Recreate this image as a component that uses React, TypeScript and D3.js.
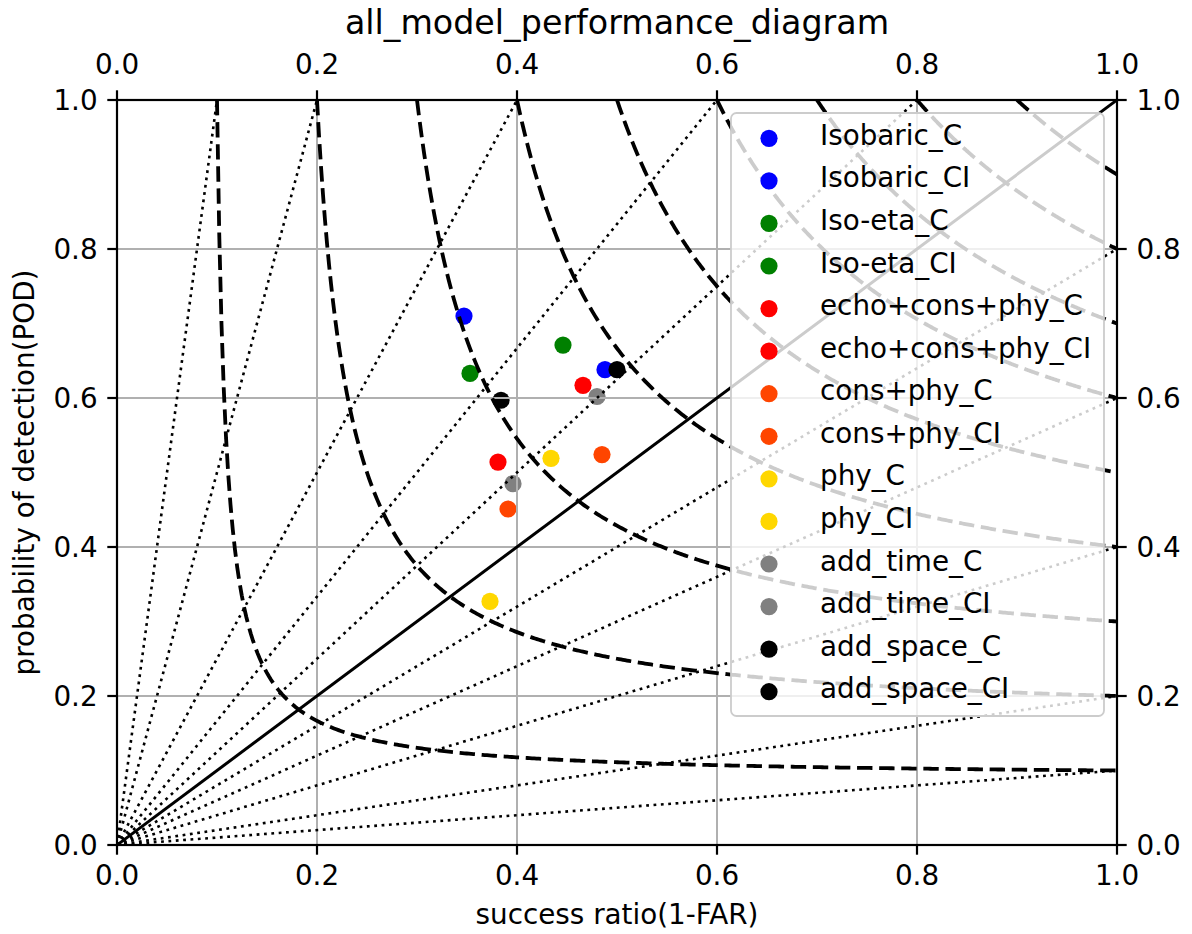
import React from "react";
import * as d3 from "d3";

const labels = [
  "Isobaric_C", "Isobaric_CI", "Iso-eta_C", "Iso-eta_CI",
  "echo+cons+phy_C", "echo+cons+phy_CI", "cons+phy_C", "cons+phy_CI",
  "phy_C", "phy_CI", "add_time_C", "add_time_CI", "add_space_C", "add_space_CI",
];
const colors = [
  "#0000ff", "#0000ff", "#008000", "#008000", "#ff0000", "#ff0000",
  "#ff4500", "#ff4500", "#ffd700", "#ffd700", "#808080", "#808080", "#000000", "#000000",
];
const successRatio = [0.347, 0.488, 0.446, 0.353, 0.466, 0.381, 0.485, 0.391, 0.434, 0.373, 0.480, 0.396, 0.500, 0.384];
const pod = [0.710, 0.638, 0.671, 0.633, 0.617, 0.514, 0.524, 0.451, 0.519, 0.327, 0.602, 0.485, 0.638, 0.597];

const csiLevels = [0.1, 0.2, 0.3, 0.4, 0.5, 0.6, 0.7, 0.8, 0.9];
const biasLevels = [0.1, 0.2, 0.4, 0.6, 0.8, 1.25, 1.667, 2.5, 5, 10];
const tickValues = [0, 0.2, 0.4, 0.6, 0.8, 1.0];

const W = 1192, H = 934;
const L = 117, R = 1117, T = 100, B = 845;
const FONT = "DejaVu Sans, sans-serif";
const FS = 27.8;

export default function App() {
  const x = d3.scaleLinear().domain([0, 1]).range([L, R]);
  const y = d3.scaleLinear().domain([0, 1]).range([B, T]);
  const fmt = d3.format(".1f");
  const line = d3.line<[number, number]>().x((d) => x(d[0])).y((d) => y(d[1]));

  const csiPaths = csiLevels.map((c) => {
    const pts: [number, number][] = [];
    const n = 400;
    for (let i = 0; i <= n; i++) {
      const sr = c + ((1 - c) * i) / n;
      const p = 1 / (1 / c - 1 / sr + 1);
      pts.push([sr, Math.min(1, p)]);
    }
    return line(pts) as string;
  });

  const biasPaths = biasLevels.map((b) =>
    line([[0, 0], [Math.min(1, 1 / b), Math.min(1, b)]]) as string
  );

  const tickLen = 9.7;
  const pad = 9.7;

  const rowY0 = 138.3, rowDy = 42.57;

  return (
    <div style={{ position: "absolute", left: 0, top: 0 }}>
      <svg width={W} height={H} style={{ display: "block", background: "#fff" }}>
        <defs>
          <clipPath id="plot">
            <rect x={L} y={T} width={R - L} height={B - T} />
          </clipPath>
        </defs>
        <rect x={0} y={0} width={W} height={H} fill="#fff" />

        {/* scatter points (drawn below grid & lines) */}
        <g clipPath="url(#plot)">
          {successRatio.map((sr, i) => (
            <circle key={i} cx={x(sr)} cy={y(pod[i])} r={8.6} fill={colors[i]} />
          ))}
        </g>

        {/* grid */}
        <g stroke="#b0b0b0" strokeWidth={2}>
          {tickValues.map((t, i) => (
            <line key={"gx" + i} x1={x(t)} x2={x(t)} y1={T} y2={B} />
          ))}
          {tickValues.map((t, i) => (
            <line key={"gy" + i} x1={L} x2={R} y1={y(t)} y2={y(t)} />
          ))}
        </g>

        {/* bias lines */}
        <g clipPath="url(#plot)" fill="none">
          {biasPaths.map((d, i) => (
            <path key={"b" + i} d={d} stroke="#000" strokeWidth={2.6} strokeDasharray="2.78 4.59" />
          ))}
          <path d={line([[0, 0], [1, 1]]) as string} stroke="#000" strokeWidth={3} />
          {csiPaths.map((d, i) => (
            <path key={"c" + i} d={d} stroke="#000" strokeWidth={3.8} strokeDasharray="15.4 6.7" />
          ))}
        </g>

        {/* spines */}
        <rect x={L} y={T} width={R - L} height={B - T} fill="none" stroke="#000" strokeWidth={2.2} />

        {/* ticks */}
        <g stroke="#000" strokeWidth={2.2}>
          {tickValues.map((t, i) => (
            <g key={"t" + i}>
              <line x1={x(t)} x2={x(t)} y1={B} y2={B + tickLen} />
              <line x1={x(t)} x2={x(t)} y1={T} y2={T - tickLen} />
              <line x1={L} x2={L - tickLen} y1={y(t)} y2={y(t)} />
              <line x1={R} x2={R + tickLen} y1={y(t)} y2={y(t)} />
            </g>
          ))}
        </g>
        <g fontFamily={FONT} fontSize={FS} fill="#262626">
          {tickValues.map((t, i) => (
            <g key={"tl" + i}>
              <text x={x(t)} y={885} textAnchor="middle" fill="#000">{fmt(t)}</text>
              <text x={x(t)} y={73.5} textAnchor="middle" fill="#000">{fmt(t)}</text>
              <text x={L - tickLen - pad} y={y(t) + 10} textAnchor="end" fill="#000">{fmt(t)}</text>
              <text x={R + tickLen + pad} y={y(t) + 10} textAnchor="start" fill="#000">{fmt(t)}</text>
            </g>
          ))}
        </g>

        {/* labels */}
        <text x={(L + R) / 2} y={34} textAnchor="middle" fontFamily={FONT} fontSize={33.3} fill="#000">
          all_model_performance_diagram
        </text>
        <text x={(L + R) / 2} y={924} textAnchor="middle" fontFamily={FONT} fontSize={FS} fill="#000">
          success ratio(1-FAR)
        </text>
        <text
          transform={`translate(34,${(T + B) / 2}) rotate(-90)`}
          textAnchor="middle"
          fontFamily={FONT}
          fontSize={FS}
          fill="#000"
        >
          probability of detection(POD)
        </text>

        {/* legend */}
        <g>
          <rect x={731} y={113} width={373} height={603} rx={5.5} ry={5.5}
            fill="#ffffff" fillOpacity={0.8} stroke="#cccccc" strokeWidth={1.8} />
          {labels.map((lab, i) => (
            <g key={"lg" + i}>
              <circle cx={769} cy={rowY0 + i * rowDy} r={8.6} fill={colors[i]} />
              <text x={820} y={rowY0 + i * rowDy + 6.5} fontFamily={FONT} fontSize={FS} fill="#000">
                {lab}
              </text>
            </g>
          ))}
        </g>
      </svg>
    </div>
  );
}
